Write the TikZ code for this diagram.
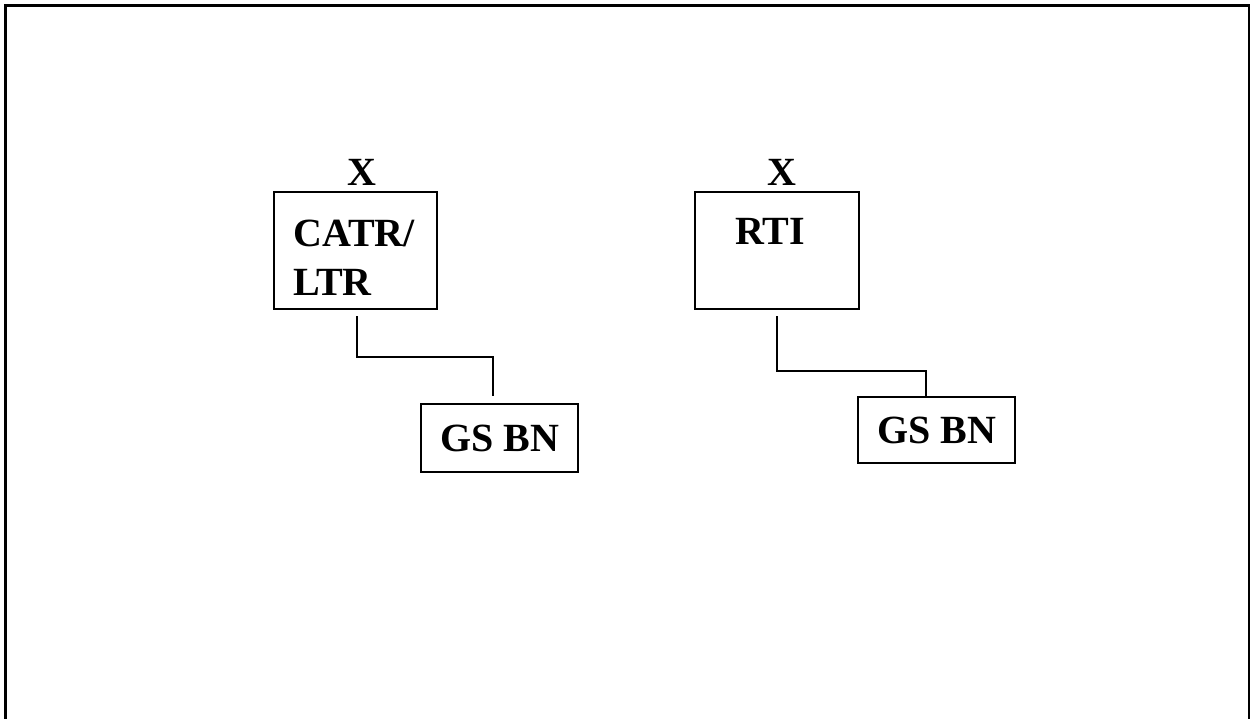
\documentclass[tikz,border=0pt]{standalone}
\usepackage{fontspec}
\setmainfont{Liberation Serif}
\begin{document}
\begin{tikzpicture}[x=1pt,y=-1pt,
  font=\fontsize{40}{48}\selectfont\bfseries,
  unitbox/.style={draw,line width=2pt,rectangle,inner sep=0pt},
  caption/.style={inner sep=0pt},
  wire/.style={draw,line width=2pt}]
\useasboundingbox (0,0) rectangle (1250,719);
% open frame round the whole drawing
\draw[line width=3pt] (5.5,719) -- (5.5,5.5) -- (1249,5.5) -- (1249,719);

% left group
\node[unitbox,minimum width=163pt,minimum height=117pt] (cat) at (355.5,250.5) {};
\node[caption,anchor=base] (xa) at (362,186) {X};
\node[caption,anchor=base west] (cata) at (293,247) {CATR/};
\node[caption,anchor=base west] (catb) at (293,295) {LTR};
\node[unitbox,minimum width=157pt,minimum height=68pt] (gs1) at (499.5,438) {GS BN};
\draw[wire,shorten <=6pt,shorten >=7pt] ([xshift=1.5pt]cat.south) -- ++(0,47) -| ([xshift=-6.5pt]gs1.north);

% right group
\node[unitbox,minimum width=164pt,minimum height=117pt] (rti) at (777,250.5) {};
\node[caption,anchor=base] (xb) at (782,186) {X};
\node[caption,anchor=base west] (rtit) at (735,245) {RTI};
\node[unitbox,minimum width=157pt,minimum height=66pt] (gs2) at (936.5,430) {GS BN};
\draw[wire,shorten <=6pt] (rti.south) -- ++(0,61) -| ([xshift=-10.5pt]gs2.north);
\end{tikzpicture}
\end{document}
